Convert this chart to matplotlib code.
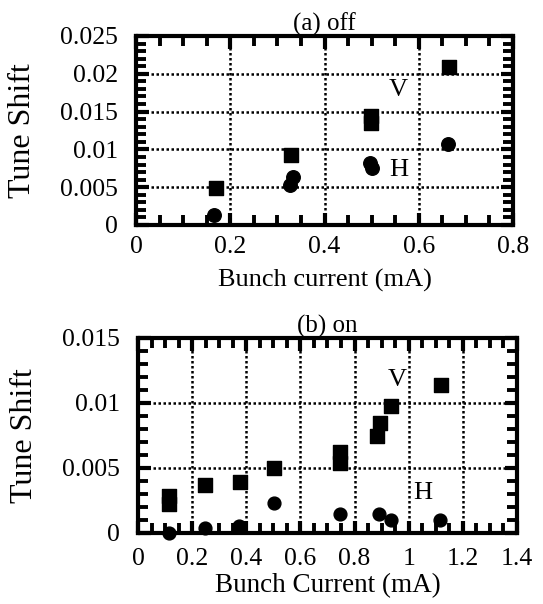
import matplotlib
matplotlib.use("Agg")
import matplotlib.pyplot as plt
from matplotlib.ticker import MultipleLocator, FuncFormatter

plt.rcParams['font.family'] = ['Liberation Serif', 'DejaVu Serif']

# (a) feedback off
off_v_x = [0.170, 0.329, 0.499, 0.499, 0.664]
off_v_y = [0.00485, 0.00926, 0.01446, 0.01345, 0.02086]
off_h_x = [0.166, 0.326, 0.333, 0.496, 0.501, 0.662]
off_h_y = [0.00132, 0.0053, 0.0063, 0.00824, 0.0075, 0.01067]

# (b) feedback on
on_v_x = [0.115, 0.115, 0.248, 0.377, 0.502, 0.746, 0.746, 0.884, 0.894, 0.935, 1.119]
on_v_y = [0.0028, 0.0022, 0.00367, 0.00388, 0.00496, 0.00618, 0.0054, 0.00745, 0.00848, 0.00976, 0.01138]
on_h_x = [0.115, 0.248, 0.373, 0.502, 0.746, 0.891, 0.935, 1.116]
on_h_y = [0.0000, 0.00036, 0.0005, 0.00226, 0.00142, 0.00142, 0.00098, 0.00098]

fig = plt.figure(figsize=(5.43, 6.04), dpi=100)
fmt = FuncFormatter(lambda v, p: f'{v:g}')


def style(ax, xmax, ymax, xpad):
    ax.set_xlim(0, xmax)
    ax.set_ylim(0, ymax)
    ax.xaxis.set_major_locator(MultipleLocator(0.2))
    ax.xaxis.set_minor_locator(MultipleLocator(0.05))
    ax.yaxis.set_major_locator(MultipleLocator(0.005))
    ax.yaxis.set_minor_locator(MultipleLocator(0.001))
    ax.xaxis.set_major_formatter(fmt)
    ax.yaxis.set_major_formatter(fmt)
    ax.tick_params(which='both', direction='in', top=True, right=True, labelsize=18.5)
    ax.tick_params(axis='y', pad=13)
    ax.tick_params(axis='x', pad=xpad)
    ax.tick_params(which='major', length=9, width=3)
    ax.tick_params(which='minor', length=7, width=2.8)
    for s in ax.spines.values():
        s.set_linewidth(3)
    ax.grid(True, which='major', linestyle=(0, (1, 1)), linewidth=1.8, color='black')
    ax.set_axisbelow(True)
    ax.set_ylabel('Tune Shift', fontsize=23)
    ax.yaxis.set_label_coords(-0.262, 0.5)


ax1 = fig.add_axes([0.2505, 0.6275, 0.6943, 0.3129])
style(ax1, 0.8, 0.025, 8)
ax1.scatter(off_v_x, off_v_y, marker='s', s=105, color='black', zorder=5, clip_on=False)
ax1.scatter(off_h_x, off_h_y, marker='o', s=95, color='black', zorder=5, clip_on=False)
ax1.text(0.556, 0.01786, 'V', fontsize=19, ha='center', va='center')
ax1.text(0.558, 0.00728, 'H', fontsize=19, ha='center', va='center')
ax1.set_xlabel('Bunch current (mA)', fontsize=19, labelpad=8)
ax1.set_title('(a) off', fontsize=18, pad=2)

ax2 = fig.add_axes([0.2541, 0.1180, 0.698, 0.3224])
style(ax2, 1.4, 0.015, 11)
ax2.scatter(on_v_x, on_v_y, marker='s', s=105, color='black', zorder=5, clip_on=False)
ax2.scatter(on_h_x, on_h_y, marker='o', s=85, color='black', zorder=5, clip_on=False)
ax2.text(0.956, 0.01177, 'V', fontsize=19, ha='center', va='center')
ax2.text(1.053, 0.00306, 'H', fontsize=19, ha='center', va='center')
ax2.set_xlabel('Bunch Current (mA)', fontsize=19.5, labelpad=2)
ax2.set_title('(b) on', fontsize=18, pad=2)

fig.savefig('out.png', dpi=100)
